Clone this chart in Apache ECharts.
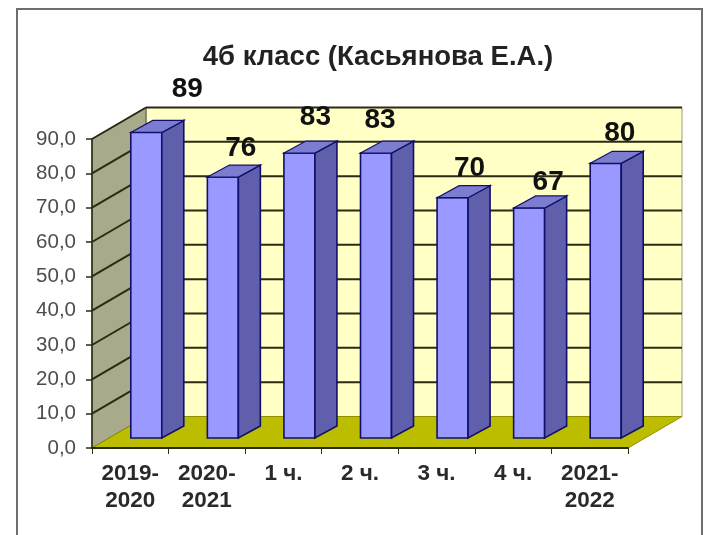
<!DOCTYPE html>
<html><head><meta charset="utf-8">
<style>html,body{margin:0;padding:0;background:#fff}#c{width:709px;height:535px;filter:blur(0.5px)}</style>
<script src="https://cdn.jsdelivr.net/npm/echarts@6/dist/echarts.min.js"></script>
</head><body><div id="c"></div>
<script>
const categories = ['2019-\n2020','2020-\n2021','1 ч.','2 ч.','3 ч.','4 ч.','2021-\n2022'];
const values = [89,76,83,83,70,67,80];
const yTicks = [0,10,20,30,40,50,60,70,80,90];
const labelNudgeX = [42,19,17,5,18,20,15];
const labelNudgeY = [-43,-29,-36,-33,-29,-26,-30];

const DX = 54, DY = -31.5;            // depth of the 3D box
const BAR_W = 31, BAR_IN_X = 17, BAR_IN_Y = -10, BAR_DX = 22, BAR_DY = -12;
const GRID_COL = '#2b2b12';

const chart = echarts.init(document.getElementById('c'), null, {renderer:'canvas'});
const poly = (pts, fill, stroke, lw) => ({type:'polygon', shape:{points:pts}, style:{fill, stroke:stroke||'none', lineWidth:lw||0}});
const line = (a,b,col,lw) => ({type:'line', shape:{x1:a[0],y1:a[1],x2:b[0],y2:b[1]}, style:{stroke:col,lineWidth:lw,fill:null}});

function renderWalls(params, api){
  const cs = params.coordSys;
  const v = api.value(0);
  const kids = [];
  const L = cs.x, R = cs.x + cs.width;
  const y0 = api.coord([0,0])[1];
  const yTop = api.coord([0,yTicks[yTicks.length-1]])[1];
  if (params.dataIndex === 0){
    kids.push(poly([[L+DX,yTop+DY],[R+DX,yTop+DY],[R+DX,y0+DY],[L+DX,y0+DY]],'#ffffc6','#9a9a80',1));
    kids.push(poly([[L,yTop],[L+DX,yTop+DY],[L+DX,y0+DY],[L,y0]],'#a9a98c','#55553a',1));
    kids.push(poly([[L,y0],[L+DX,y0+DY],[R+DX,y0+DY],[R,y0]],'#bdbd00','#8f8f00',1));
  }
  if (v > 0){
    const y = api.coord([0,v])[1];
    kids.push(line([L+DX,y+DY],[R+DX,y+DY],GRID_COL,2));
    kids.push(line([L,y],[L+DX,y+DY],GRID_COL,2));
  }
  return {type:'group', children:kids};
}

function renderBar(params, api){
  const cat = api.value(0), val = api.value(1);
  const c = api.coord([cat,val]);
  const b = api.coord([cat,0]);
  const xl = c[0] - BAR_W/2 + BAR_IN_X - 1, xr = xl + BAR_W;
  const yt = c[1] + BAR_IN_Y, yb = b[1] + BAR_IN_Y;
  const edge = '#10106a';
  const i = params.dataIndex;
  return {type:'group', children:[
    poly([[xl,yt],[xr,yt],[xr,yb],[xl,yb]],'#9999ff',edge,1.6),
    poly([[xr,yt],[xr+BAR_DX,yt+BAR_DY],[xr+BAR_DX,yb+BAR_DY],[xr,yb]],'#5f5fab',edge,1.6),
    poly([[xl,yt],[xl+BAR_DX,yt+BAR_DY],[xr+BAR_DX,yt+BAR_DY],[xr,yt]],'#7c7cd0',edge,1.2),
    {type:'text', x:(xl+xr)/2+labelNudgeX[i]-1, y:yt+labelNudgeY[i],
     style:{text:String(val), fill:'#111', font:'bold 28px "Liberation Sans", Arial, sans-serif', align:'center', verticalAlign:'middle'}}
  ]};
}

chart.setOption({
  animation:false,
  backgroundColor:'#ffffff',
  graphic:[{type:'rect', z:-10, shape:{x:17,y:9,width:685,height:540}, style:{fill:'#fff',stroke:'#6e6e6e',lineWidth:2}}],
  title:{text:'4б класс (Касьянова Е.А.)', left:373, top:38, textAlign:'center',
    textStyle:{fontFamily:'"Liberation Sans", Arial, sans-serif', fontWeight:'bold', fontSize:27.5, color:'#222'}},
  grid:{left:92, right:81, top:139, bottom:87, containLabel:false},
  xAxis:{type:'category', data:categories, z:6,
    axisLine:{lineStyle:{color:'#2b2b12',width:2}},
    axisTick:{show:true, alignWithLabel:false, length:6, lineStyle:{color:'#2b2b12'}},
    axisLabel:{interval:0, color:'#2a2a2a', fontWeight:'bold', fontSize:22.5, lineHeight:27, margin:12,
      fontFamily:'"Liberation Sans", Arial, sans-serif'},
    splitLine:{show:false}},
  yAxis:{type:'value', min:0, max:90, interval:10, z:6,
    axisLine:{show:true, lineStyle:{color:'#2b2b12',width:1.5}},
    axisTick:{show:true, length:6, lineStyle:{color:'#2b2b12',width:1.5}},
    axisLabel:{color:'#4d4d4d', fontSize:20.5, margin:16, padding:[2,0,0,0], fontFamily:'"Liberation Sans", Arial, sans-serif',
      formatter:v=>v.toFixed(1).replace('.',',')},
    splitLine:{show:false}},
  series:[
    {type:'custom', z:1, clip:false, silent:true, coordinateSystem:'cartesian2d', data:yTicks.map(v=>[v]), encode:{y:0}, renderItem:renderWalls},
    {type:'custom', z:3, clip:false, silent:true, coordinateSystem:'cartesian2d', data:values.map((v,i)=>[i,v]), encode:{x:0,y:1}, renderItem:renderBar}
  ]
});
</script></body></html>
